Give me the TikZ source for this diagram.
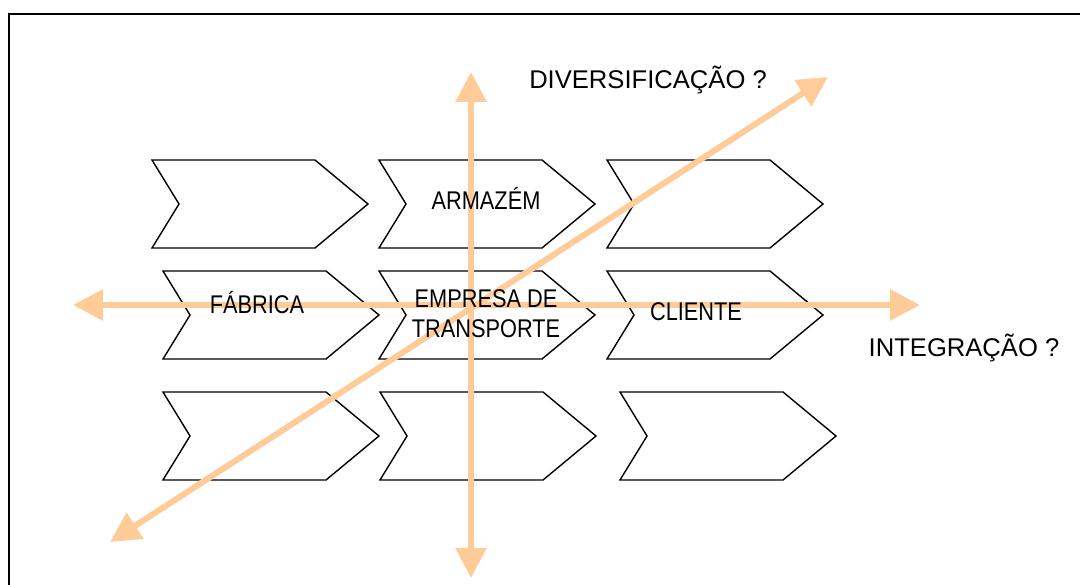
\documentclass[tikz,border=0pt]{standalone}
\usepackage{fontspec}
\setmainfont{Liberation Sans}
\newfontfamily\narrowsans[FakeStretch=0.85]{Liberation Sans}
\usetikzlibrary{arrows.meta}
\definecolor{peach}{RGB}{255,204,153}

% one chevron, given its top left corner
\newcommand{\chevron}[2]{%
  \draw[chev] (#1,#2) -- ++(163,0) -- ++(53,44) -- ++(-53,44) -- ++(-163,0) -- ++(27,-44) -- cycle;}

\tikzset{
  chev/.style={draw=black, line width=1pt, line join=miter},
  axis/.style={draw=peach, line width=4.3pt,
    {Triangle[length=21.3pt,width=21.3pt]}-{Triangle[length=21.3pt,width=21.3pt]}},
  lbl/.style={font=\narrowsans\fontsize{18.2}{21}\selectfont, anchor=base, inner sep=0pt},
  qlbl/.style={font=\fontsize{18.2}{21}\selectfont, anchor=base, inner sep=0pt},
}

\begin{document}
\begin{tikzpicture}[x=0.025cm, y=-0.025cm]
      \useasboundingbox (0,0) rectangle (1080,585);
      % frame
      \draw[line width=1.1pt] (9,590) -- (9,14) -- (1085,14);
      % chevrons, three rows
      \foreach \x/\y in {152/160, 379/160, 607/160, 163/271, 379/271, 607/271, 163/392, 380/392, 620/392}
        \chevron{\x}{\y}
      % the three axes
      \coordinate (w) at (73,305);
      \coordinate (e) at (920,305);
      \coordinate (n) at (471,72);
      \coordinate (s) at (471,578);
      \coordinate (sw) at (110,542);
      \coordinate (ne) at (828,77);
      \draw[axis] (w) -- (e);
      \draw[axis] (n) -- (s);
      \draw[axis] (sw) -- (ne);
      % labels
      \node[lbl] (fabrica) at (257,313) {FÁBRICA};
      \node[lbl] (armazem) at (486,209) {ARMAZÉM};
      \node[lbl, align=center] (transp) at (486,337) {EMPRESA DE\\TRANSPORTE};
      \node[lbl] (cliente) at (696,320) {CLIENTE};
      \node[qlbl] (divers) at (648,88) {DIVERSIFICAÇÃO ?};
      \node[qlbl] (integr) at (964,356) {INTEGRAÇÃO ?};
    \end{tikzpicture}
\end{document}
